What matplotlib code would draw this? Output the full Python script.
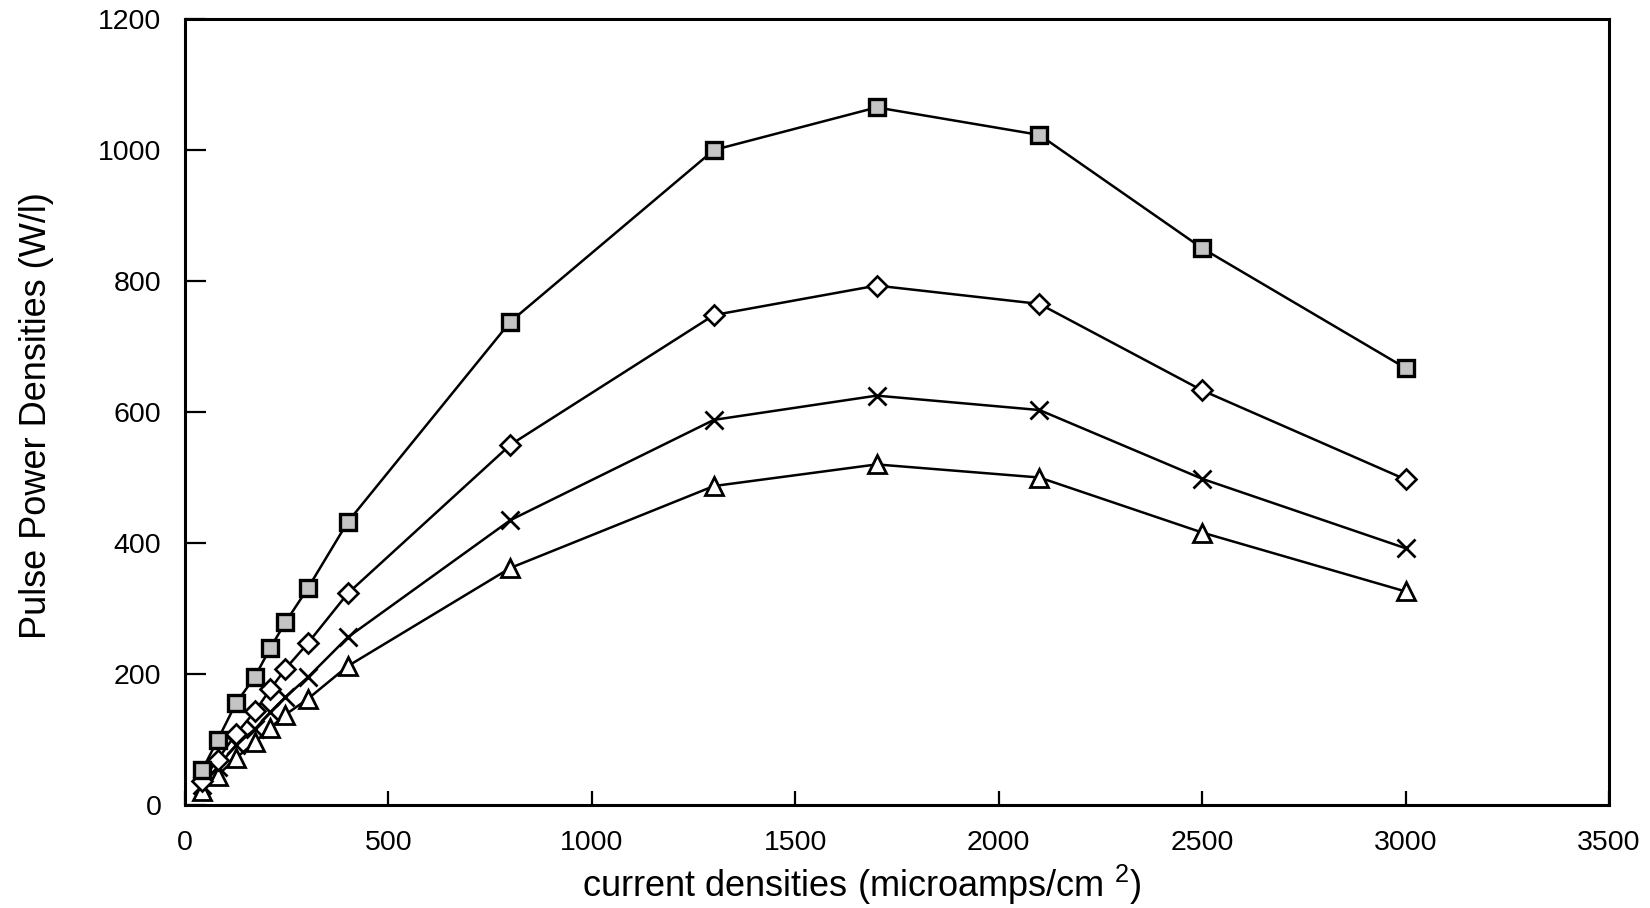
import matplotlib
matplotlib.use("Agg")
import matplotlib.pyplot as plt

plt.rcParams['font.family'] = ['Liberation Sans', 'DejaVu Sans']
plt.rcParams['mathtext.fontset'] = 'custom'
plt.rcParams['mathtext.rm'] = 'Liberation Sans'
plt.rcParams['mathtext.it'] = 'Liberation Sans'

# current densities (microamps/cm^2)
current = [42, 80, 126, 172, 210, 247, 302, 400, 800, 1300, 1700, 2100, 2500, 3000]
# pulse power densities (W/l) for four series
series_square = [53, 99, 156, 196, 240, 279, 331, 432, 738, 1000, 1065, 1023, 850, 667]
series_diamond = [37, 69, 109, 143, 177, 208, 247, 323, 550, 748, 793, 765, 633, 497]
series_cross = [31, 58, 92, 116, 142, 165, 195, 256, 435, 588, 625, 603, 498, 392]
series_triangle = [22, 45, 72, 96, 118, 138, 162, 212, 362, 487, 520, 500, 416, 326]

xticks = [0, 500, 1000, 1500, 2000, 2500, 3000, 3500]
yticks = [0, 200, 400, 600, 800, 1000, 1200]

fig = plt.figure(figsize=(16.5, 9.08), dpi=100)
ax = fig.add_axes([0.1121, 0.1134, 0.8631, 0.8657])

lw = 1.8
ax.plot(current, series_square, color='black', lw=lw, marker='s', ms=12,
        mfc='#c4c4c4', mec='black', mew=2.4, zorder=5)
ax.plot(current, series_diamond, color='black', lw=lw, marker='D', ms=10,
        mfc='white', mec='black', mew=1.9, zorder=4)
ax.plot(current, series_cross, color='black', lw=lw, marker='x', ms=13,
        mec='black', mew=2.0, zorder=3)
ax.plot(current, series_triangle, color='black', lw=lw, marker='^', ms=13,
        mfc='white', mec='black', mew=2.0, zorder=2)

ax.set_xlim(0, 3500)
ax.set_ylim(0, 1200)
ax.set_xticks(xticks)
ax.set_yticks(yticks)
ax.tick_params(axis='both', direction='in', width=1.6, labelsize=20.5)
ax.tick_params(axis='x', length=10, pad=18)
ax.tick_params(axis='y', length=15, pad=17)
for s in ax.spines.values():
    s.set_linewidth(2.2)

ax.set_xlabel(r"current densities (microamps/cm $^{2}$)", fontsize=26)
ax.set_ylabel("Pulse Power Densities (W/l)", fontsize=26)
ax.xaxis.set_label_coords(0.475, -0.073)
ax.yaxis.set_label_coords(-0.092, 0.495)

fig.savefig("out.png", dpi=100)
